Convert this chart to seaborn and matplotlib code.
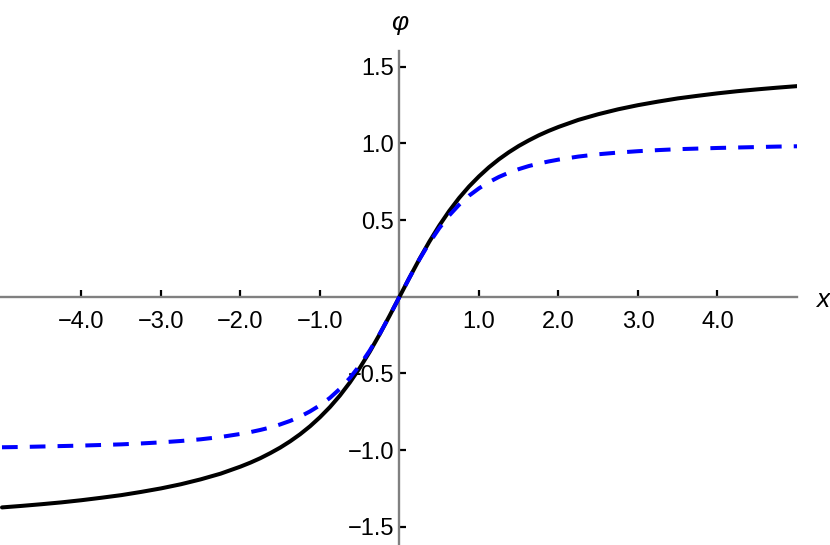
import pandas as pd
import seaborn as sns
import matplotlib
matplotlib.use("Agg")
import matplotlib.pyplot as plt

# values (both curves are odd, so the left half mirrors the right)
x_pos = [0, 0.125, 0.25, 0.375, 0.5, 0.625, 0.75, 0.875, 1.0, 1.125, 1.25, 1.375, 1.5, 1.625, 1.75, 1.875,
         2.0, 2.25, 2.5, 2.75, 3.0, 3.25, 3.5, 3.75, 4.0, 4.25, 4.5, 4.75, 5.0]
solid_pos = [0, 0.124, 0.245, 0.359, 0.464, 0.559, 0.644, 0.719, 0.785, 0.844, 0.896, 0.942, 0.983, 1.019,
             1.052, 1.081, 1.107, 1.153, 1.190, 1.222, 1.249, 1.272, 1.293, 1.310, 1.326, 1.340, 1.352,
             1.363, 1.373]
dashed_pos = [0, 0.124, 0.243, 0.351, 0.447, 0.530, 0.600, 0.659, 0.707, 0.747, 0.781, 0.809, 0.832, 0.852,
              0.868, 0.882, 0.894, 0.914, 0.929, 0.940, 0.949, 0.956, 0.962, 0.966, 0.970, 0.973, 0.976,
              0.979, 0.981]
x_neg = [-v for v in x_pos[:0:-1]]
solid_neg = [-v for v in solid_pos[:0:-1]]
dashed_neg = [-v for v in dashed_pos[:0:-1]]

x_ticks = [-4, -3, -2, -1, 1, 2, 3, 4]
y_ticks = [-1.5, -1.0, -0.5, 0.5, 1.0, 1.5]

df = pd.DataFrame({"x": x_neg + x_pos, "solid": solid_neg + solid_pos, "dashed": dashed_neg + dashed_pos})

sns.set_style("white")
plt.rcParams['font.family'] = ['Liberation Sans', 'DejaVu Sans']
plt.rcParams['axes.unicode_minus'] = True

fig = plt.figure(figsize=(8.3, 5.45), dpi=100)
ax = fig.add_axes([0, 0, 797 / 830, 494.3 / 545])

sns.lineplot(data=df, x="x", y="solid", color="black", lw=2.9, ax=ax, zorder=3, sort=False)
sns.lineplot(data=df, x="x", y="dashed", color="#0000ff", lw=2.9, ax=ax, zorder=4, sort=False)
ax.lines[-1].set_dashes([3.9, 3.0])
ax.lines[-1].set_dash_capstyle("butt")

ax.set_xlim(-5.025, 5.0)
ax.set_ylim(-1.618, 1.604)

for s in ["top", "right"]:
    ax.spines[s].set_visible(False)
for s in ["left", "bottom"]:
    ax.spines[s].set_position(("data", 0))
    ax.spines[s].set_color("#808080")
    ax.spines[s].set_linewidth(1.7)

ax.set_xticks(x_ticks)
ax.set_xticklabels([f"{v:.1f}".replace("-", "\u2212") for v in x_ticks])
ax.set_yticks(y_ticks)
ax.set_yticklabels([f"{v:.1f}".replace("-", "\u2212") for v in y_ticks])
ax.tick_params(axis="x", bottom=True, direction="in", length=5, width=1.6, color="black",
               pad=10.5, labelsize=17, labelcolor="black")
ax.tick_params(axis="y", left=True, direction="in", length=5, width=1.6, color="black",
               pad=4, labelsize=17, labelcolor="black")
ax.set_xlabel("")
ax.set_ylabel("")

fig.text(822.7 / 830, 1 - 300 / 545, "x", style="italic", fontsize=19, ha="center", va="center", color="black")
fig.text(399.3 / 830, 1 - 23 / 545, "\u03c6", style="italic", fontsize=19, ha="center", va="center", color="black")

fig.savefig("out.png", dpi=100)
